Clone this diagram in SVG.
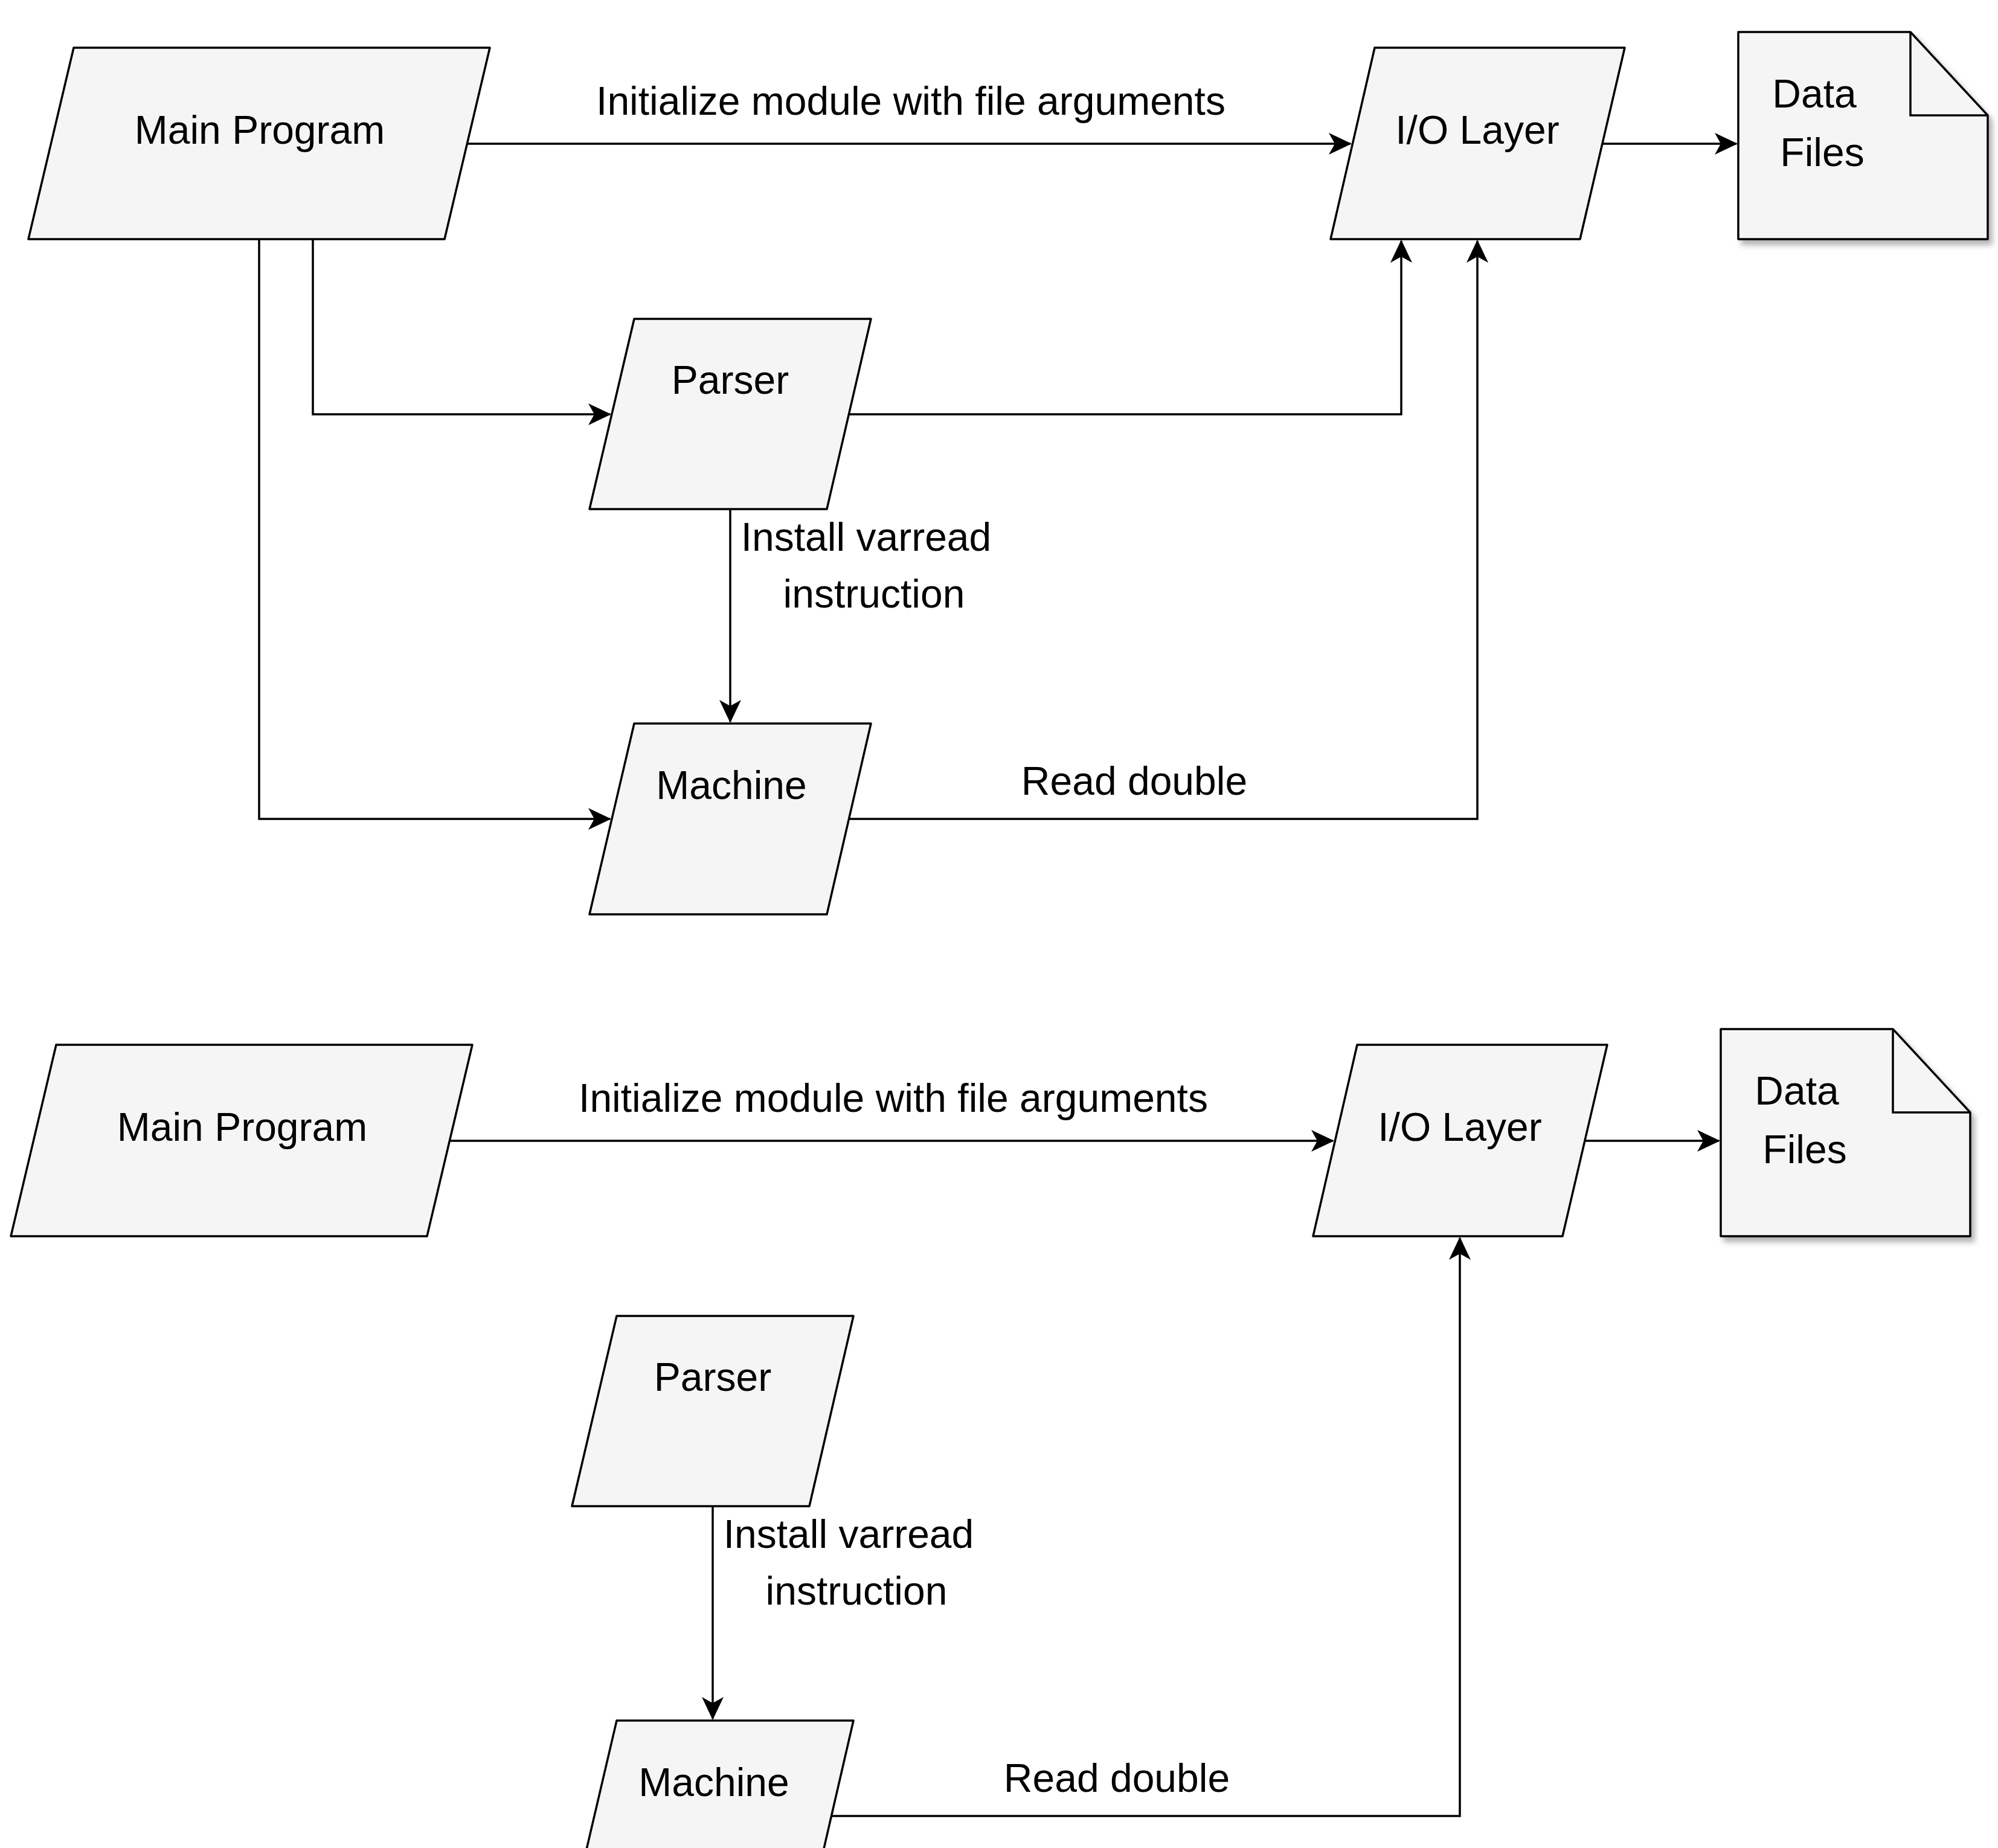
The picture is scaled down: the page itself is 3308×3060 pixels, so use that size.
<svg xmlns="http://www.w3.org/2000/svg" width="3308" height="3060" viewBox="0 0 3308 3060">
<style>
.n{fill:#f5f5f5;stroke:#000;stroke-width:3.5;stroke-linejoin:round}
.c{fill:none;stroke:#000;stroke-width:3.5}
text{font-family:"Liberation Sans","DejaVu Sans",sans-serif;font-size:66px;fill:#000;text-anchor:middle}
</style>
<defs>
<marker id="ah" markerUnits="userSpaceOnUse" markerWidth="40" markerHeight="40" refX="36" refY="20" orient="auto">
<path d="M0,2 L38,20 L0,38 L10,20 Z" fill="#000"/>
</marker>
<filter id="sh" x="-10%" y="-10%" width="130%" height="130%"><feDropShadow dx="6" dy="8" stdDeviation="5" flood-color="#000" flood-opacity="0.3"/></filter>
</defs>
<rect width="3308" height="3060" fill="#fff"/>
<g id="top">
<g id="edges1">
<path class="c" d="M775,238 H2236" marker-end="url(#ah)"/>
<text x="1508" y="190">Initialize module with file arguments</text>
<path class="c" d="M2653,238 H2875" marker-end="url(#ah)"/>
<path class="c" d="M518,396 V686 H1010" marker-end="url(#ah)"/>
<path class="c" d="M429,396 V1356 H1010" marker-end="url(#ah)"/>
<path class="c" d="M1406,686 H2320 V399" marker-end="url(#ah)"/>
<path class="c" d="M1209,843 V1195" marker-end="url(#ah)"/>
<text x="1434" y="912">Install varread</text>
<text x="1447" y="1006">instruction</text>
<path class="c" d="M1406,1356 H2446 V399" marker-end="url(#ah)"/>
<text x="1878" y="1316">Read double</text>
</g>
<g id="main1"><path class="n" d="M122,79 H811 L736,396 H47 Z"/><text x="430" y="238">Main Program</text></g>
<g id="io1"><path class="n" d="M2276,79 H2690 L2616,396 H2203 Z"/><text x="2446" y="238">I/O Layer</text></g>
<g id="parser1"><path class="n" d="M1050,528 H1442 L1369,843 H976 Z"/><text x="1209" y="652">Parser</text></g>
<g id="machine1"><path class="n" d="M1050,1198 H1442 L1369,1514 H976 Z"/><text x="1211" y="1323">Machine</text></g>
<g id="data1"><path class="n" filter="url(#sh)" d="M2878,53 H3163 L3291,191 V396 H2878 Z"/><path class="c" d="M3163,53 V191 H3291"/><text x="3004" y="178">Data</text><text x="3017" y="275">Files</text></g>
</g>
<g id="bottom" transform="translate(-29,1651)">
<g id="edges2">
<path class="c" d="M775,238 H2236" marker-end="url(#ah)"/>
<text x="1508" y="190">Initialize module with file arguments</text>
<path class="c" d="M2653,238 H2875" marker-end="url(#ah)"/>
<path class="c" d="M1209,843 V1195" marker-end="url(#ah)"/>
<text x="1434" y="912">Install varread</text>
<text x="1447" y="1006">instruction</text>
<path class="c" d="M1406,1356 H2446 V399" marker-end="url(#ah)"/>
<text x="1878" y="1316">Read double</text>
</g>
<g id="main2"><path class="n" d="M122,79 H811 L736,396 H47 Z"/><text x="430" y="238">Main Program</text></g>
<g id="io2"><path class="n" d="M2276,79 H2690 L2616,396 H2203 Z"/><text x="2446" y="238">I/O Layer</text></g>
<g id="parser2"><path class="n" d="M1050,528 H1442 L1369,843 H976 Z"/><text x="1209" y="652">Parser</text></g>
<g id="machine2"><path class="n" d="M1050,1198 H1442 L1369,1514 H976 Z"/><text x="1211" y="1323">Machine</text></g>
<g id="data2"><path class="n" filter="url(#sh)" d="M2878,53 H3163 L3291,191 V396 H2878 Z"/><path class="c" d="M3163,53 V191 H3291"/><text x="3004" y="178">Data</text><text x="3017" y="275">Files</text></g>
</g>
</svg>
